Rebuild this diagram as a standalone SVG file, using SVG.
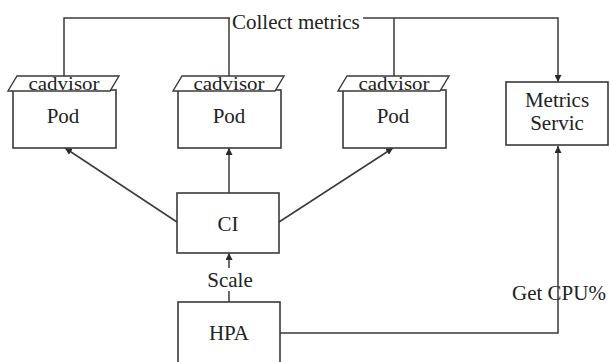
<svg xmlns="http://www.w3.org/2000/svg" width="611" height="362" viewBox="0 0 611 362">
  <style>
    .box { fill: #ffffff; stroke: #3a3a3a; stroke-width: 1.6; }
    .tab { fill: #ffffff; stroke: #3a3a3a; stroke-width: 1.4; stroke-linejoin: miter; }
    .wire { fill: none; stroke: #3a3a3a; stroke-width: 1.5; }
    text { font-family: "Liberation Serif", "Times New Roman", serif; fill: #222222; }
    .lbl { font-size: 21px; text-anchor: middle; }
    .tabtxt { font-size: 19px; text-anchor: middle; }
  </style>
  <defs>
    <marker id="arrow" viewBox="0 0 10 10" refX="10" refY="5" markerWidth="7" markerHeight="7" markerUnits="userSpaceOnUse" orient="auto">
      <path d="M0,0 L10,5 L0,10 z" fill="#2a2a2a"/>
    </marker>
  </defs>

  <rect width="611" height="362" fill="#ffffff"/>

  <!-- connectors -->
  <g id="connectors">
    <!-- metrics collection bus -->
    <polyline class="wire" points="64,76 64,18 230,18"/>
    <line class="wire" x1="229" y1="18" x2="229" y2="76"/>
    <polyline class="wire" points="363,18 558,18 558,82" marker-end="url(#arrow)"/>
    <line class="wire" x1="394" y1="18" x2="394" y2="76"/>
    <!-- CI to pods -->
    <line class="wire" x1="177" y1="222" x2="65" y2="148" marker-end="url(#arrow)"/>
    <line class="wire" x1="229" y1="193" x2="229" y2="148" marker-end="url(#arrow)"/>
    <line class="wire" x1="279" y1="222" x2="393" y2="148" marker-end="url(#arrow)"/>
    <!-- HPA scale -->
    <line class="wire" x1="229" y1="302" x2="229" y2="291"/>
    <line class="wire" x1="229" y1="268" x2="229" y2="253" marker-end="url(#arrow)"/>
    <!-- HPA to metrics service -->
    <polyline class="wire" points="280,333 558,333 558,146" marker-end="url(#arrow)"/>
    <text x="232" y="29" font-size="21">Collect metrics</text>
    <text class="lbl" x="230" y="287">Scale</text>
    <text x="512" y="300" font-size="21">Get CPU%</text>
  </g>

  <g id="pod1">
    <rect class="box" x="13" y="90" width="103" height="58"/>
    <polygon class="tab" points="17,76 119,76 110,91 8,91"/>
    <text class="tabtxt" x="64" y="90" textLength="71" lengthAdjust="spacingAndGlyphs">cadvisor</text>
    <text class="lbl" x="63" y="123">Pod</text>
  </g>

  <g id="pod2">
    <rect class="box" x="178" y="90" width="103" height="58"/>
    <polygon class="tab" points="182,76 284,76 275,91 173,91"/>
    <text class="tabtxt" x="229" y="90" textLength="71" lengthAdjust="spacingAndGlyphs">cadvisor</text>
    <text class="lbl" x="229" y="123">Pod</text>
  </g>

  <g id="pod3">
    <rect class="box" x="343" y="90" width="103" height="58"/>
    <polygon class="tab" points="347,76 449,76 440,91 338,91"/>
    <text class="tabtxt" x="394" y="90" textLength="71" lengthAdjust="spacingAndGlyphs">cadvisor</text>
    <text class="lbl" x="393" y="123">Pod</text>
  </g>

  <g id="metrics-service">
    <rect class="box" x="506" y="82" width="102" height="63"/>
    <text class="lbl" x="557" y="107">Metrics</text>
    <text class="lbl" x="557" y="130">Servic</text>
  </g>

  <g id="ci">
    <rect class="box" x="177" y="193" width="102" height="60"/>
    <text class="lbl" x="228" y="231">CI</text>
  </g>

  <g id="hpa">
    <rect class="box" x="178" y="302" width="102" height="70"/>
    <text class="lbl" x="229" y="340">HPA</text>
  </g>
</svg>
